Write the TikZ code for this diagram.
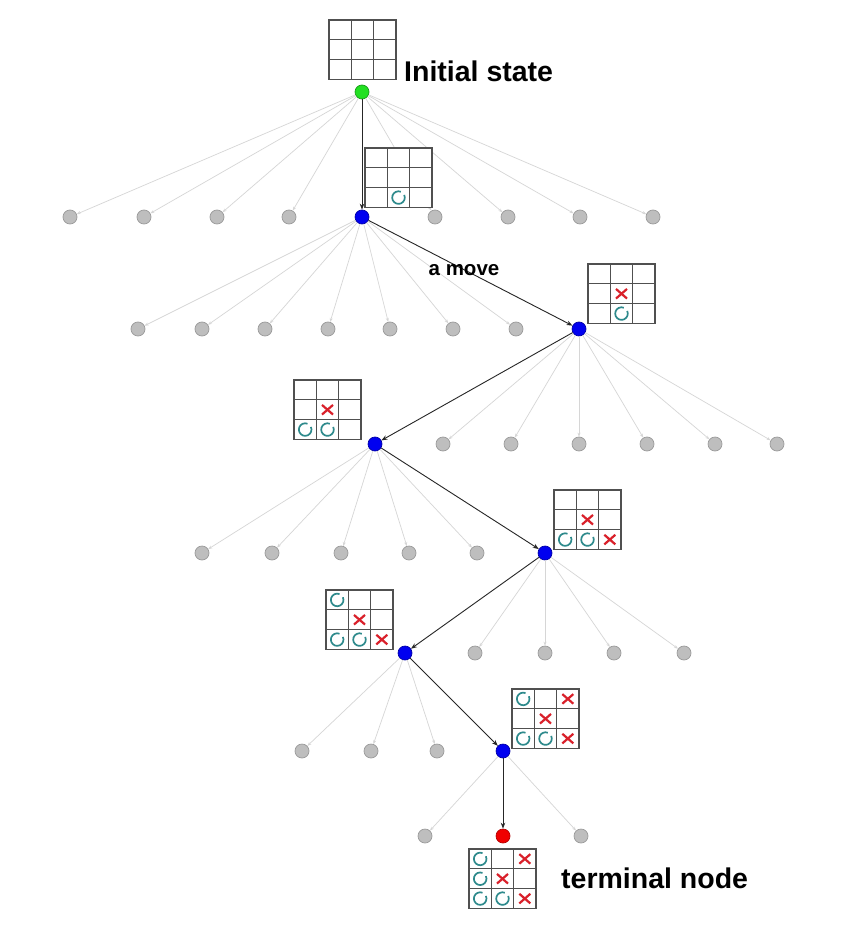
\documentclass[tikz,border=0pt]{standalone}
\usepackage{fontspec}
\setmainfont{Liberation Sans}
\usetikzlibrary{arrows.meta,calc}
\definecolor{gfill}{HTML}{BEBEBE}
\definecolor{gdraw}{HTML}{9A9A9A}
\definecolor{gline}{HTML}{D6D6D6}
\definecolor{gridc}{HTML}{505050}
\definecolor{oteal}{HTML}{2E8A8C}
\definecolor{xred}{HTML}{D9202A}
\definecolor{nblue}{HTML}{0000F0}
\definecolor{ngreen}{HTML}{22E022}
\definecolor{nred}{HTML}{F00000}
\tikzset{
  treenode/.style={circle, inner sep=0pt, minimum size=14pt, line width=0.7pt},
  gnode/.style={treenode, fill=gfill, draw=gdraw},
  bnode/.style={treenode, fill=nblue, draw=nblue!70!black},
  rootnode/.style={treenode, fill=ngreen, draw=ngreen!70!black},
  endnode/.style={treenode, fill=nred, draw=nred!75!black},
  gedge/.style={draw=gline, line width=0.7pt, -{Stealth[length=4pt,width=3pt]}},
  bedge/.style={draw=black!85, line width=0.9pt, -{Stealth[length=6pt,width=4.5pt]}},
  cellline/.style={draw=gridc, line width=1.1pt},
  xline/.style={draw=xred, line width=2.2pt},
  oline/.style={draw=oteal, line width=1.7pt},
  lbl/.style={font=\bfseries\fontsize{28.5}{31}\selectfont, inner sep=0pt},
  movelbl/.style={font=\bfseries\fontsize{20.5}{23}\selectfont, inner sep=0pt},
  xmk/.pic={\draw[xline] (-5.5,-4.8) -- (5.5,4.8) (-5.5,4.8) -- (5.5,-4.8);},
  omk/.pic={\draw[oline] (-25:6.3) arc[start angle=-25, end angle=292, radius=6.3];}
}
\newcommand\brd[3]{%
  \coordinate (#1) at (#2,#3);
  \draw[cellline, fill=white] (#1) rectangle ++(67,59.5);
  \foreach \i in {1,2} {
    \draw[cellline] ($(#1)+(\i*22.33,0)$) -- ++(0,59.5);
    \draw[cellline] ($(#1)+(0,\i*19.83)$) -- ++(67,0);
  }%
}
\newcommand\mk[4]{\pic at ($(#1)+({(#2-0.5)*22.33},{(#3-0.5)*19.83})$) {#4};}
\begin{document}
\begin{tikzpicture}[x=1pt,y=-1pt]
\useasboundingbox (0,0) rectangle (851,925);
\fill[white] (0,0) rectangle (851,925);

% tree nodes
\node[rootnode] (r) at (362,92) {};
\foreach \n/\x in {a1/70,a2/144,a3/217,a4/289,a6/435,a7/508,a8/580,a9/653}
  \node[gnode] (\n) at (\x,217) {};
\node[bnode] (a5) at (362,217) {};
\foreach \n/\x in {b1/138,b2/202,b3/265,b4/328,b5/390,b6/453,b7/516}
  \node[gnode] (\n) at (\x,329) {};
\node[bnode] (b8) at (579,329) {};
\node[bnode] (c1) at (375,444) {};
\foreach \n/\x in {c2/443,c3/511,c4/579,c5/647,c6/715,c7/777}
  \node[gnode] (\n) at (\x,444) {};
\foreach \n/\x in {d1/202,d2/272,d3/341,d4/409,d5/477}
  \node[gnode] (\n) at (\x,553) {};
\node[bnode] (d6) at (545,553) {};
\node[bnode] (e1) at (405,653) {};
\foreach \n/\x in {e2/475,e3/545,e4/614,e5/684}
  \node[gnode] (\n) at (\x,653) {};
\foreach \n/\x in {f1/302,f2/371,f3/437}
  \node[gnode] (\n) at (\x,751) {};
\node[bnode] (f4) at (503,751) {};
\node[gnode] (g1) at (425,836) {};
\node[endnode] (g2) at (503,836) {};
\node[gnode] (g3) at (581,836) {};

% grey edges
\foreach \n in {a1,a2,a3,a4,a6,a7,a8,a9} \draw[gedge] (r) -- (\n);
\foreach \n in {b1,b2,b3,b4,b5,b6,b7} \draw[gedge] (a5) -- (\n);
\foreach \n in {c2,c3,c4,c5,c6,c7} \draw[gedge] (b8) -- (\n);
\foreach \n in {d1,d2,d3,d4,d5} \draw[gedge] (c1) -- (\n);
\foreach \n in {e2,e3,e4,e5} \draw[gedge] (d6) -- (\n);
\foreach \n in {f1,f2,f3} \draw[gedge] (e1) -- (\n);
\foreach \n in {g1,g3} \draw[gedge] (f4) -- (\n);

% main path
\draw[bedge] (r) -- (a5);
\draw[bedge] (a5) -- (b8);
\draw[bedge] (b8) -- (c1);
\draw[bedge] (c1) -- (d6);
\draw[bedge] (d6) -- (e1);
\draw[bedge] (e1) -- (f4);
\draw[bedge] (f4) -- (g2);

% boards
\brd{s0}{329}{20}
\brd{s1}{365}{148}
\mk{s1}{2}{3}{omk}
\brd{s2}{588}{264}
\mk{s2}{2}{2}{xmk}\mk{s2}{2}{3}{omk}
\brd{s3}{294}{380}
\mk{s3}{2}{2}{xmk}\mk{s3}{1}{3}{omk}\mk{s3}{2}{3}{omk}
\brd{s4}{554}{490}
\mk{s4}{2}{2}{xmk}\mk{s4}{1}{3}{omk}\mk{s4}{2}{3}{omk}\mk{s4}{3}{3}{xmk}
\brd{s5}{326}{590}
\mk{s5}{1}{1}{omk}\mk{s5}{2}{2}{xmk}\mk{s5}{1}{3}{omk}\mk{s5}{2}{3}{omk}\mk{s5}{3}{3}{xmk}
\brd{s6}{512}{689}
\mk{s6}{1}{1}{omk}\mk{s6}{3}{1}{xmk}\mk{s6}{2}{2}{xmk}\mk{s6}{1}{3}{omk}\mk{s6}{2}{3}{omk}\mk{s6}{3}{3}{xmk}
\brd{s7}{469}{849}
\mk{s7}{1}{1}{omk}\mk{s7}{3}{1}{xmk}\mk{s7}{1}{2}{omk}\mk{s7}{2}{2}{xmk}\mk{s7}{1}{3}{omk}\mk{s7}{2}{3}{omk}\mk{s7}{3}{3}{xmk}

% labels
\node[lbl, anchor=west] (tinit) at (404,71) {Initial state};
\node[lbl, anchor=west] (tterm) at (561,878) {terminal node};
\node[movelbl] (tmove) at (464,270) {a move};
\end{tikzpicture}
\end{document}
